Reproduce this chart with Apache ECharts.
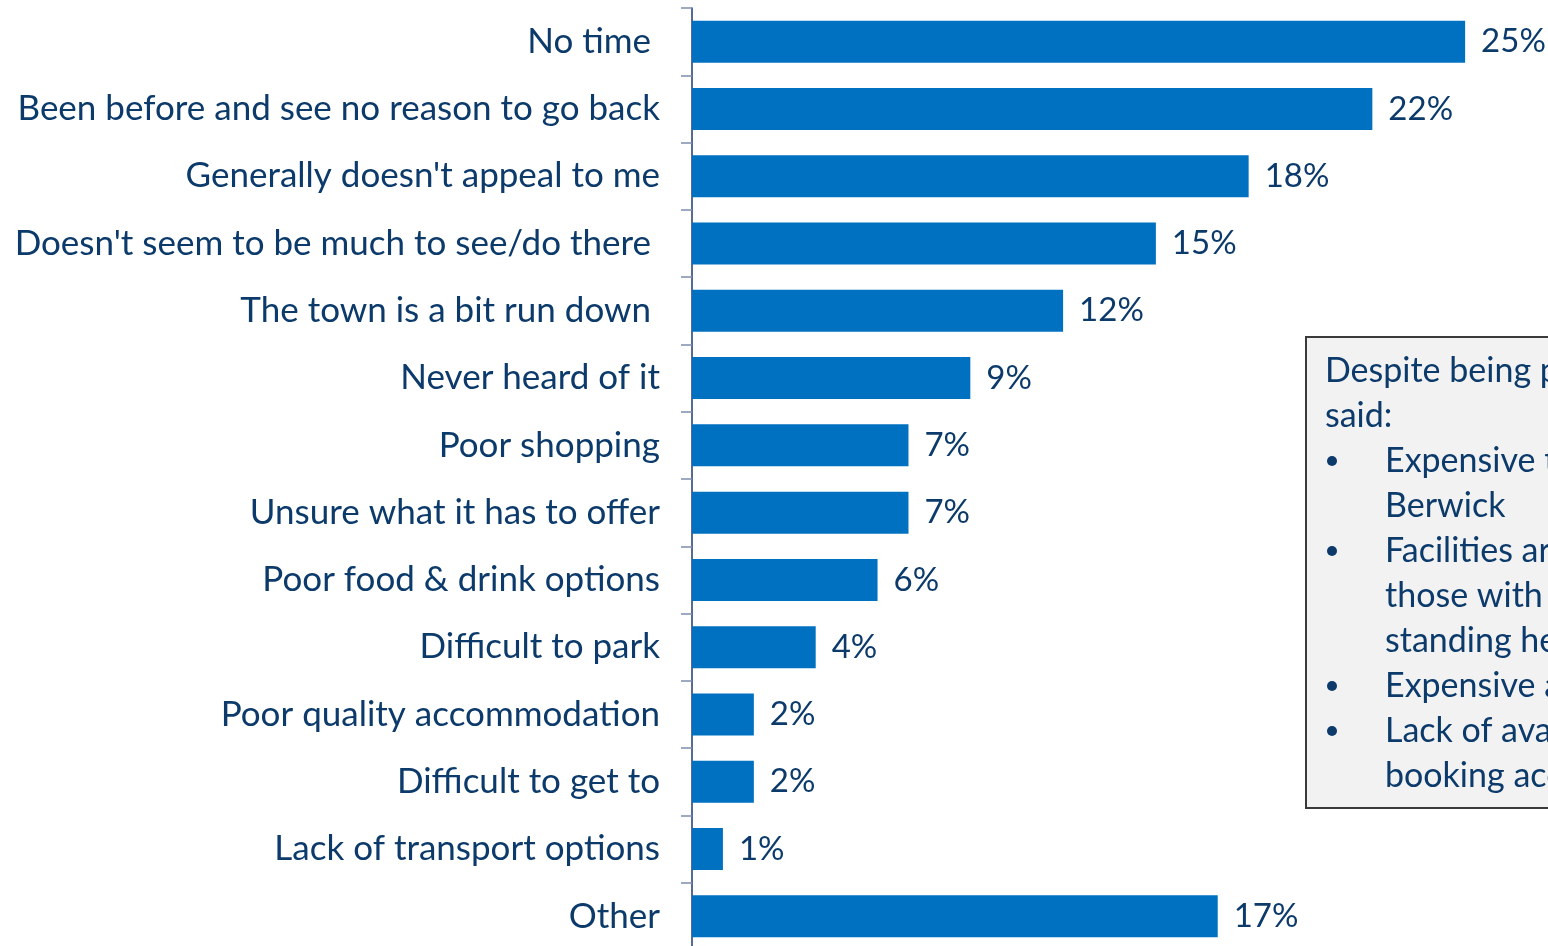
<!DOCTYPE html>
<html>
<head>
<meta charset="utf-8">
<script src="https://cdn.jsdelivr.net/npm/echarts@6/dist/echarts.min.js"></script>
<style>
  html, body { margin: 0; padding: 0; background: #ffffff; overflow: hidden; }
  #chart { width: 1548px; height: 950px; }
</style>
</head>
<body>
<div id="chart"></div>
<script>
// Reasons for not visiting (share of respondents, %)
const categories = [
  'No time ',
  'Been before and see no reason to go back',
  "Generally doesn't appeal to me",
  "Doesn't seem to be much to see/do there ",
  'The town is a bit run down ',
  'Never heard of it',
  'Poor shopping',
  'Unsure what it has to offer',
  'Poor food & drink options',
  'Difficult to park',
  'Poor quality accommodation',
  'Difficult to get to',
  'Lack of transport options',
  'Other'
];
const values = [25, 22, 18, 15, 12, 9, 7, 7, 6, 4, 2, 2, 1, 17];

// Call-out box text
const calloutIntro = ['Despite being positive, some', 'said:'];
const calloutBullets = [
  ['Expensive to park in', 'Berwick'],
  ['Facilities are not suitable for', 'those with long-', 'standing health conditions'],
  ['Expensive accommodation'],
  ['Lack of available parking when', 'booking accommodation']
];

const FONT = 'Lato, "Open Sans", sans-serif';
const NAVY = '#0b3a6b';

const chart = echarts.init(document.getElementById('chart'), null, { renderer: 'canvas' });

// Build the call-out graphic elements from the text arrays
const lineH = 45;
const boxX = 1305, boxY = 336;
const graphics = [{
  type: 'rect',
  left: boxX, top: boxY,
  shape: { width: 420, height: 471 },
  style: { fill: '#f2f2f2', stroke: '#3a3a3a', lineWidth: 2 },
  z: 10
}];
let y = 371;
calloutIntro.forEach(t => {
  graphics.push({ type: 'text', x: 1325, y: y, z: 11,
    style: { text: t, font: '34px ' + FONT, fill: NAVY, verticalAlign: 'middle' } });
  y += lineH;
});
calloutBullets.forEach(item => {
  graphics.push({ type: 'circle', shape: { cx: 1332, cy: y, r: 5 }, style: { fill: NAVY }, z: 11 });
  item.forEach(t => {
    graphics.push({ type: 'text', x: 1385, y: y, z: 11,
      style: { text: t, font: '34px ' + FONT, fill: NAVY, verticalAlign: 'middle' } });
    y += lineH;
  });
});

chart.setOption({
  animation: false,
  backgroundColor: '#ffffff',
  grid: { left: 692, top: 8, right: 0, bottom: 0, containLabel: false },
  xAxis: {
    type: 'value', min: 0, max: 27.68, show: false
  },
  yAxis: {
    type: 'category',
    data: categories,
    inverse: true,
    axisLine: { show: true, lineStyle: { color: '#1f3a6e', width: 1.5 } },
    axisTick: { show: true, length: 11, lineStyle: { color: '#7f8fb0', width: 1.5 } },
    axisLabel: { margin: 32, color: NAVY, fontFamily: FONT, fontSize: 35 },
    splitLine: { show: false }
  },
  series: [{
    type: 'bar',
    data: values,
    barWidth: '62.4%',
    itemStyle: { color: '#0070c0' },
    label: {
      show: true, position: 'right', distance: 16,
      formatter: p => p.value + '%',
      color: NAVY, fontFamily: FONT, fontSize: 33
    }
  }],
  graphic: graphics
});
</script>
</body>
</html>
